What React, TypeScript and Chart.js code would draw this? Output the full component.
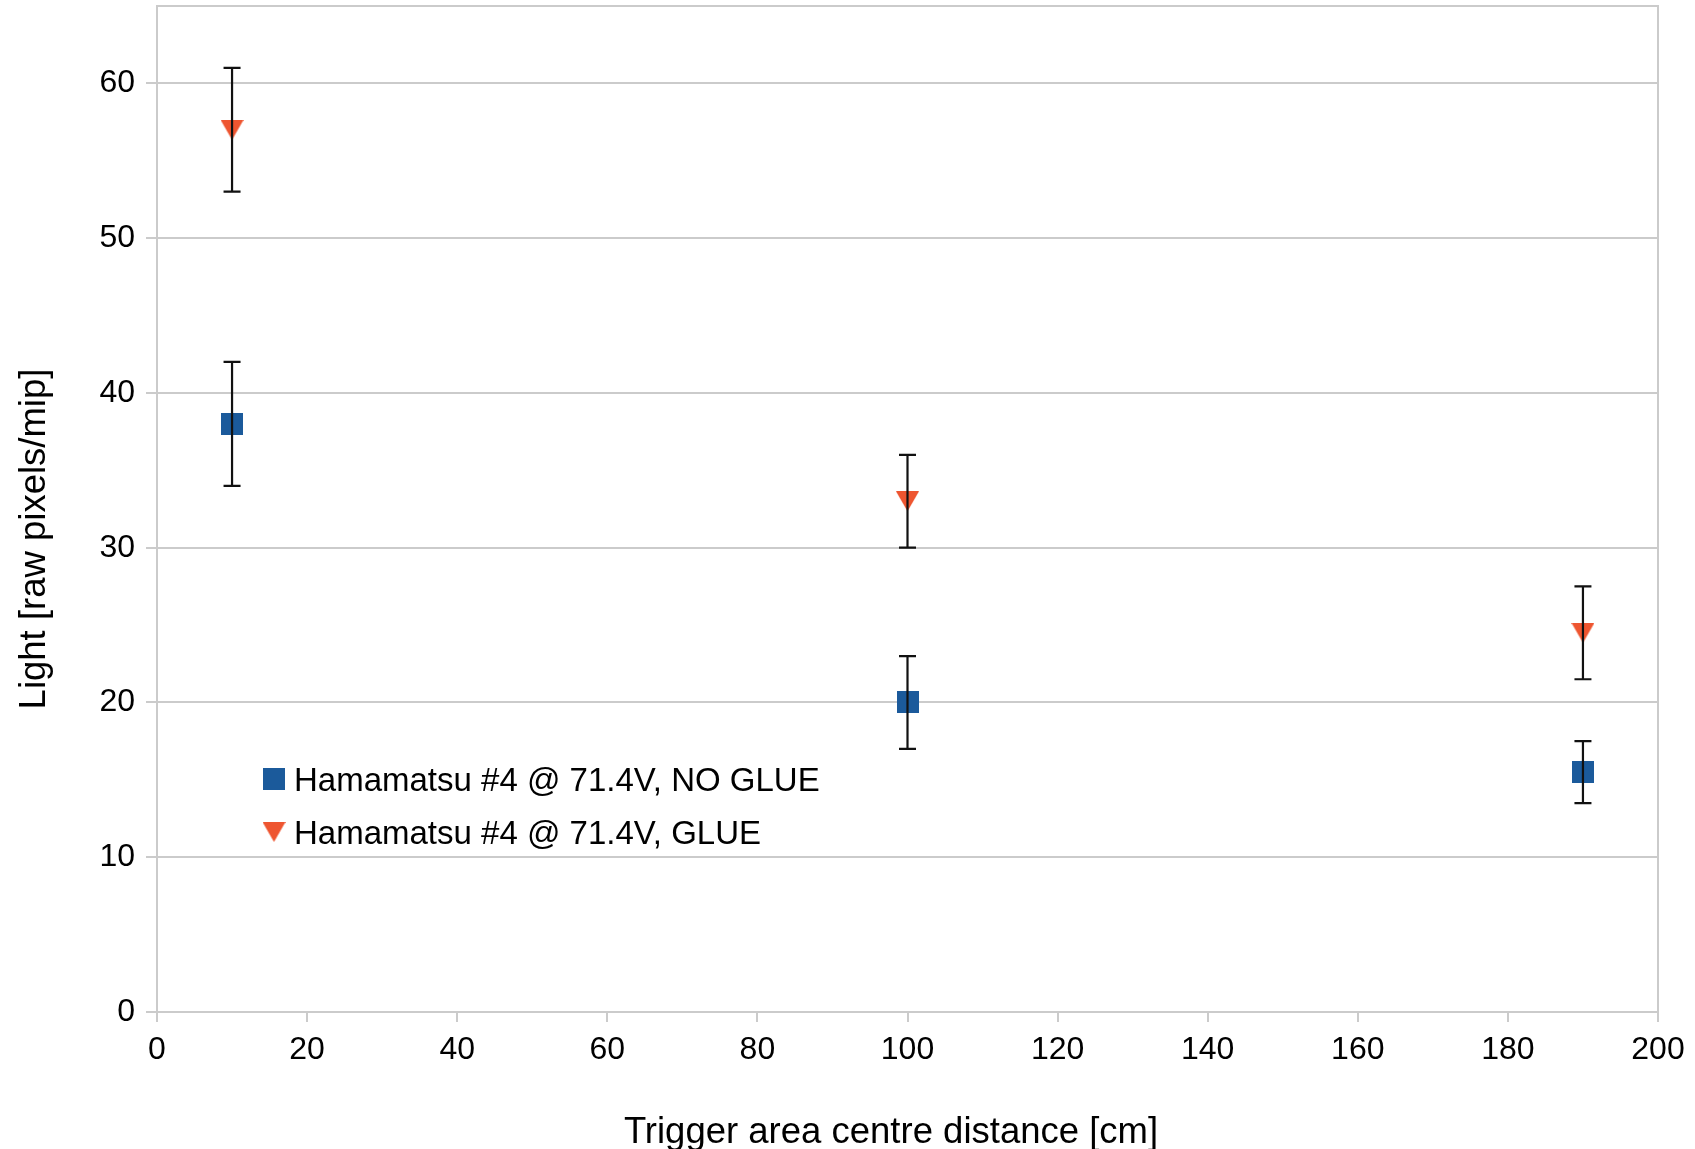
import React, { useEffect, useRef } from 'react';
import { Chart, registerables } from 'chart.js';

Chart.register(...registerables);

// ---- Data ----
const distances = [10, 100, 190];
const noGlueValues = [38, 20, 15.5];
const noGlueErrors = [4, 3, 2];
const glueValues = [57, 33, 24.5];
const glueErrors = [4, 3, 3];
const seriesLabels = ['Hamamatsu #4 @ 71.4V, NO GLUE', 'Hamamatsu #4 @ 71.4V, GLUE'];
const xAxisTitle = 'Trigger area centre distance [cm]';
const yAxisTitle = 'Light [raw pixels/mip]';
const xTickStep = 20;
const yTickStep = 10;
const yTickMaxLabel = 60;

const FONT = '"Liberation Sans", Arial, Helvetica, sans-serif';
const GRID = '#cbcbcb';
const BLUE = '#1b5a9b';
const ORANGE = '#ee5530';

function makeSquare(size: number, color: string) {
  const c = document.createElement('canvas');
  c.width = size;
  c.height = size;
  const g = c.getContext('2d')!;
  g.fillStyle = color;
  g.fillRect(0, 0, size, size);
  return c;
}

function makeDownTriangle(w: number, h: number, color: string) {
  const c = document.createElement('canvas');
  c.width = w;
  c.height = h;
  const g = c.getContext('2d')!;
  g.fillStyle = color;
  g.beginPath();
  g.moveTo(0, 0);
  g.lineTo(w, 0);
  g.lineTo(w / 2, h);
  g.closePath();
  g.fill();
  return c;
}

const errorBarPlugin = {
  id: 'errorBars',
  afterDatasetsDraw(chart: any) {
    const ctx = chart.ctx;
    const xs = chart.scales.x;
    const ys = chart.scales.y;
    ctx.save();
    ctx.strokeStyle = '#111';
    ctx.lineWidth = 2.2;
    chart.data.datasets.forEach((ds: any) => {
      ds.data.forEach((p: any, j: number) => {
        const e = ds.errorBars[j];
        const x = xs.getPixelForValue(p.x);
        const yt = ys.getPixelForValue(p.y + e);
        const yb = ys.getPixelForValue(p.y - e);
        const cap = 8.5;
        ctx.beginPath();
        ctx.moveTo(x, yt);
        ctx.lineTo(x, yb);
        ctx.moveTo(x - cap, yt);
        ctx.lineTo(x + cap, yt);
        ctx.moveTo(x - cap, yb);
        ctx.lineTo(x + cap, yb);
        ctx.stroke();
      });
    });
    ctx.restore();
  },
};

const framePlugin = {
  id: 'frame',
  beforeDatasetsDraw(chart: any) {
    const { ctx, chartArea } = chart;
    ctx.save();
    ctx.strokeStyle = GRID;
    ctx.lineWidth = 2;
    ctx.beginPath();
    ctx.moveTo(chartArea.left, chartArea.top);
    ctx.lineTo(chartArea.right, chartArea.top);
    ctx.lineTo(chartArea.right, chartArea.bottom);
    ctx.stroke();
    ctx.restore();
  },
};

const textPlugin = {
  id: 'texts',
  afterDraw(chart: any) {
    const ctx = chart.ctx;
    ctx.save();
    // legend
    ctx.font = `33px ${FONT}`;
    ctx.fillStyle = '#000';
    ctx.textAlign = 'left';
    ctx.textBaseline = 'alphabetic';
    const rows = [779, 832];
    chart.data.datasets.forEach((ds: any, i: number) => {
      const img = ds.pointStyle as HTMLCanvasElement;
      ctx.drawImage(img, 274 - img.width / 2, rows[i] - img.height / 2);
      ctx.fillText(ds.label, 294, rows[i] + 11.5);
    });
    // axis titles
    ctx.font = `36.5px ${FONT}`;
    ctx.textAlign = 'center';
    ctx.fillText(xAxisTitle, 891, 1143);
    ctx.translate(45, 539);
    ctx.rotate(-Math.PI / 2);
    ctx.fillText(yAxisTitle, 0, 0);
    ctx.restore();
  },
};

export default function App() {
  const ref = useRef<HTMLCanvasElement>(null);

  useEffect(() => {
    document.body.style.margin = '0';
    const square = makeSquare(22, BLUE);
    const tri = makeDownTriangle(23, 20, ORANGE);
    const chart = new Chart(ref.current!, {
      type: 'scatter',
      data: {
        datasets: [
          {
            label: seriesLabels[0],
            data: distances.map((x, i) => ({ x, y: noGlueValues[i] })),
            errorBars: noGlueErrors,
            pointStyle: square,
            backgroundColor: BLUE,
            borderColor: BLUE,
            showLine: false,
          } as any,
          {
            label: seriesLabels[1],
            data: distances.map((x, i) => ({ x, y: glueValues[i] })),
            errorBars: glueErrors,
            pointStyle: tri,
            backgroundColor: ORANGE,
            borderColor: ORANGE,
            showLine: false,
          } as any,
        ],
      },
      options: {
        responsive: false,
        animation: false,
        devicePixelRatio: 1,
        layout: { padding: { left: 0, top: 6, right: 37, bottom: 0 } },
        plugins: {
          legend: { display: false },
          tooltip: { enabled: false },
          title: { display: false },
        },
        scales: {
          x: {
            type: 'linear',
            min: 0,
            max: 200,
            ticks: {
              stepSize: xTickStep,
              color: '#000',
              font: { size: 32, family: FONT },
              padding: 9,
              maxRotation: 0,
              autoSkip: false,
            },
            grid: { drawOnChartArea: false, drawTicks: true, tickLength: 10, color: GRID, lineWidth: 2 },
            border: { display: true, color: GRID, width: 2 },
            afterFit: (s: any) => {
              s.height = 137;
              s.paddingLeft = 0;
              s.paddingRight = 0;
            },
          },
          y: {
            type: 'linear',
            min: 0,
            max: 65,
            ticks: {
              stepSize: yTickStep,
              color: '#000',
              font: { size: 32, family: FONT },
              padding: 11,
            },
            grid: { drawTicks: true, tickLength: 11, color: GRID, lineWidth: 2 },
            border: { display: true, color: GRID, width: 2 },
            afterBuildTicks: (s: any) => {
              s.ticks = s.ticks.filter((t: any) => t.value <= yTickMaxLabel);
            },
            afterFit: (s: any) => {
              s.width = 157;
              s.paddingTop = 0;
              s.paddingBottom = 0;
            },
          },
        },
      } as any,
      plugins: [framePlugin, errorBarPlugin, textPlugin],
    });
    return () => chart.destroy();
  }, []);

  return (
    <div style={{ width: 1695, height: 1149 }}>
      <canvas ref={ref} width={1695} height={1149} style={{ display: 'block' }} />
    </div>
  );
}
